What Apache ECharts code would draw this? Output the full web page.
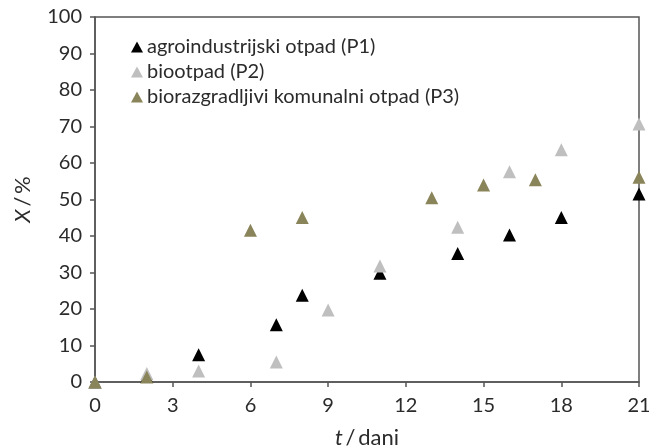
<!DOCTYPE html>
<html>
<head>
<meta charset="utf-8">
<script src="https://cdn.jsdelivr.net/npm/echarts@6/dist/echarts.min.js"></script>
<style>
html,body{margin:0;padding:0;background:#fff;}
#c{width:649px;height:447px;}
</style>
</head>
<body>
<div id="c"></div>
<script>
const seriesNames = ['agroindustrijski otpad (P1)', 'biootpad (P2)', 'biorazgradljivi komunalni otpad (P3)'];
const daysP1 = [0, 2, 4, 7, 8, 11, 14, 16, 18, 21];
const valuesP1 = [0, 1.5, 7.5, 15.7, 23.8, 29.8, 35.2, 40.3, 45.1, 51.5];
const daysP2 = [0, 2, 4, 7, 9, 11, 14, 16, 18, 21];
const valuesP2 = [0, 2.3, 3.0, 5.5, 19.7, 31.8, 42.4, 57.6, 63.6, 70.7];
const daysP3 = [0, 2, 6, 8, 13, 15, 17, 21];
const valuesP3 = [0, 1.4, 41.6, 45.1, 50.5, 54.0, 55.4, 56.1];
const xTicks = [0, 3, 6, 9, 12, 15, 18, 21];
const yTicks = [0, 10, 20, 30, 40, 50, 60, 70, 80, 90, 100];

const colors = ['#000000', '#bfbfbf', '#8a845a'];
const pair = (xs, ys) => xs.map((x, i) => [x, ys[i]]);
const font = 'Lato, "Open Sans", sans-serif';
const axisColor = '#555';
const textColor = '#2b2b2b';

const chart = echarts.init(document.getElementById('c'));
chart.setOption({
  animation: false,
  backgroundColor: '#fff',
  grid: { left: 95, right: 10, top: 17, bottom: 65, show: true, borderColor: axisColor, borderWidth: 1.5, containLabel: false, outerBoundsMode: 'none' },
  legend: {
    orient: 'vertical', left: 126, top: 32, itemGap: 5, itemWidth: 12, itemHeight: 11,
    icon: 'triangle',
    textStyle: { fontFamily: font, fontSize: 20, color: textColor, padding: [0, 0, 0, -1] },
    data: seriesNames
  },
  xAxis: {
    type: 'value', min: xTicks[0], max: xTicks[xTicks.length - 1], interval: 3,
    axisLine: { show: true, lineStyle: { color: axisColor, width: 1.5 } },
    axisTick: { show: true, length: 5, lineStyle: { color: axisColor, width: 1.5 } },
    axisLabel: { fontFamily: font, fontSize: 20, color: textColor, margin: 14 },
    splitLine: { show: false },
    name: '{i|t}\u2009/\u2009dani', nameLocation: 'middle', nameGap: 45,
    nameTextStyle: { fontFamily: font, fontSize: 22, color: textColor, rich: { i: { fontStyle: 'italic', fontFamily: font, fontSize: 22, color: textColor } } }
  },
  yAxis: {
    type: 'value', min: yTicks[0], max: yTicks[yTicks.length - 1], interval: 10,
    axisLine: { show: true, lineStyle: { color: axisColor, width: 1.5 } },
    axisTick: { show: true, length: 5, lineStyle: { color: axisColor, width: 1.5 } },
    axisLabel: { fontFamily: font, fontSize: 20, color: textColor, margin: 13 },
    splitLine: { show: false },
    name: '{i|X}\u2009/\u2009%', nameLocation: 'middle', nameGap: 61,
    nameTextStyle: { fontFamily: font, fontSize: 22, color: textColor, rich: { i: { fontStyle: 'italic', fontFamily: font, fontSize: 22, color: textColor } } }
  },
  series: [
    { name: seriesNames[0], type: 'scatter', symbol: 'triangle', symbolSize: 13, itemStyle: { color: colors[0], opacity: 1 }, data: pair(daysP1, valuesP1), clip: false, z: 2 },
    { name: seriesNames[1], type: 'scatter', symbol: 'triangle', symbolSize: 13, itemStyle: { color: colors[1], opacity: 1 }, data: pair(daysP2, valuesP2), clip: false, z: 3 },
    { name: seriesNames[2], type: 'scatter', symbol: 'triangle', symbolSize: 13, itemStyle: { color: colors[2], opacity: 1 }, data: pair(daysP3, valuesP3), clip: false, z: 4 }
  ]
});
</script>
</body>
</html>
